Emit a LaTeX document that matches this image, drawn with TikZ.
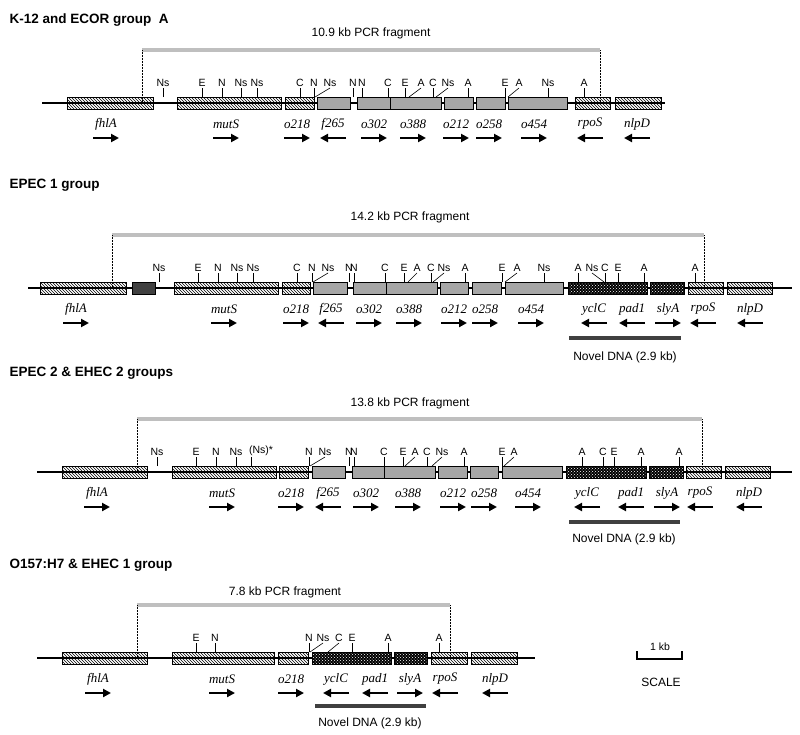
\documentclass[tikz,border=0pt]{standalone}
\usepackage{fontspec}
\setmainfont{Liberation Sans}
\newfontfamily\gfont{Liberation Serif}
\usetikzlibrary{patterns,arrows.meta}
\tikzset{
 hatchbox/.style={draw,line width=0.7pt,pattern=north west lines},
 graybox/.style={draw,line width=0.7pt,fill=black!35},
 darkbox/.style={draw,line width=0.7pt,fill=black!75},
 site/.style={font=\fontsize{10.5}{11}\selectfont,inner sep=1pt},
 gene/.style={font=\gfont\itshape\fontsize{13}{14}\selectfont},
 ttl/.style={font=\bfseries\fontsize{13.5}{15}\selectfont,anchor=west},
 frag/.style={font=\fontsize{12}{14}\selectfont},
 pcr/.style={line width=3.5pt,black!25},
 guide/.style={densely dotted,line width=0.5pt},
 back/.style={line width=1.8pt},
 rarr/.style={line width=2pt,-{Triangle[length=8pt,width=8pt]}},
}
\newcommand\hb[3]{\draw[hatchbox] (#1,#3-6) rectangle (#2,#3+6);}
\newcommand\gb[3]{\draw[graybox] (#1,#3-6) rectangle (#2,#3+6);}
\newcommand\db[3]{\fill[black] (#1,#3-6) rectangle (#2,#3+6);\fill[pattern=crosshatch dots,pattern color=white] (#1,#3-6) rectangle (#2,#3+6);\draw[line width=0.7pt] (#1,#3-6) rectangle (#2,#3+6);}
\newcommand\ticks[2]{\foreach \x/\l in {#2}{\draw[line width=0.6pt] (\x,#1-6)--(\x,#1-15) node[site,above]{\l};}}
\newcommand\slants[2]{\foreach \x/\e/\l in {#2}{\draw[line width=0.6pt] (\x,#1-6)--(\e,#1-15) node[site,above]{\l};}}
\newcommand\genes[2]{\foreach \x/\l/\d in {#2}{\node[gene] at (\x,#1+21) {\l};
 \ifnum\d=1 \draw[rarr] (\x-13,#1+35)--(\x+13,#1+35);\else\draw[rarr] (\x+13,#1+35)--(\x-13,#1+35);\fi}}
\begin{document}
\begin{tikzpicture}[x=1pt,y=-1pt]
\useasboundingbox (0,0) rectangle (800,734);
% ---------- Panel 1
\node[ttl] (t1) at (6,20) {K-12 and ECOR group\ \ A};
\node[frag] (f1) at (371,33) {10.9 kb PCR fragment};
\coordinate (p1a) at (142,50); \coordinate (p1b) at (600,50);
\draw[pcr] (p1a)--(p1b);
\draw[guide] (p1a)--(142,103); \draw[guide] (p1b)--(600,103);
\draw[back] (42,103)--(665,103);
\hb{67}{153}{103}\hb{177}{281}{103}\hb{285}{314}{103}
\gb{317}{350}{103}\gb{357}{390}{103}\gb{390}{441}{103}\gb{444}{473}{103}\gb{476}{505}{103}\gb{508}{567}{103}
\hb{575}{610}{103}\hb{615}{661}{103}
\ticks{103}{163/Ns,202/E,222/N,241/Ns,257/Ns,300/C,314/N,353/N,362/N,388/C,405/E,433/C,468/A,505/E,548/Ns,584/A}
\slants{103}{315/330/Ns,409/421/A,436/448/Ns,508/519/A}
\genes{103}{106/fhlA/1,226/mutS/1,297/o218/1,333/f265/0,374/o302/1,413/o388/1,456/o212/1,489/o258/1,534/o454/1,590/rpoS/0,637/nlpD/0}
% ---------- Panel 2
\node[ttl] (t2) at (6,185) {EPEC 1 group};
\node[frag] (f2) at (410,217) {14.2 kb PCR fragment};
\coordinate (p2a) at (112,235); \coordinate (p2b) at (704,235);
\draw[pcr] (p2a)--(p2b);
\draw[guide] (p2a)--(112,288); \draw[guide] (p2b)--(704,288);
\draw[back] (28,288)--(792,288);
\hb{40}{126}{288}\draw[darkbox] (132,282) rectangle (155,294);
\hb{174}{278}{288}\hb{282}{310}{288}
\gb{313}{347}{288}\gb{353}{386}{288}\gb{386}{437}{288}\gb{440}{468}{288}\gb{472}{501}{288}\gb{505}{563}{288}
\db{568}{647}{288}\db{650}{684}{288}
\hb{688}{723}{288}\hb{727}{772}{288}
\ticks{288}{159/Ns,198/E,218/N,237/Ns,253/Ns,297/C,312/N,349/N,354/N,385/C,404/E,431/C,465/A,502/E,544/Ns,578/A,605/C,618/E,644/A,695/A}
\slants{288}{313/328/Ns,408/417/A,433/444/Ns,505/517/A,604/592/Ns}
\genes{288}{76/fhlA/1,224/mutS/1,296/o218/1,331/f265/0,369/o302/1,409/o388/1,454/o212/1,485/o258/1,531/o454/1,594/yclC/0,632/pad1/0,668/slyA/1,703/rpoS/0,750/nlpD/0}
\draw[line width=3.5pt,black!75] (569,338)--(681,338);
\node[frag] (n2) at (625,357) {Novel DNA (2.9 kb)};
% ---------- Panel 3
\node[ttl] (t3) at (6,373) {EPEC 2 \& EHEC 2 groups};
\node[frag] (f3) at (410,403) {13.8 kb PCR fragment};
\coordinate (p3a) at (137,419); \coordinate (p3b) at (702,419);
\draw[pcr] (p3a)--(p3b);
\draw[guide] (p3a)--(137,472); \draw[guide] (p3b)--(702,472);
\draw[back] (37,472)--(792,472);
\hb{62}{147}{472}\hb{172}{276}{472}\hb{279}{308}{472}
\gb{312}{345}{472}\gb{352}{384}{472}\gb{384}{435}{472}\gb{438}{467}{472}\gb{470}{498}{472}\gb{502}{562}{472}
\db{566}{646}{472}\db{649}{683}{472}
\hb{686}{721}{472}\hb{725}{770}{472}
\ticks{472}{157/Ns,196/E,216/N,236/Ns,309/N,349/N,354/N,384/C,403/E,427/C,464/A,502/E,582/A,603/C,614/E,641/A,679/A}
\draw[line width=0.6pt] (251,466)--(251,457) node[site,above,xshift=10pt]{(Ns)*};
\slants{472}{310/325/Ns,405/415/A,432/442/Ns,504/514/A}
\genes{472}{97/fhlA/1,222/mutS/1,291/o218/1,328/f265/0,366/o302/1,408/o388/1,453/o212/1,484/o258/1,528/o454/1,587/yclC/0,631/pad1/0,667/slyA/1,700/rpoS/0,749/nlpD/0}
\draw[line width=3.5pt,black!75] (569,522)--(680,522);
\node[frag] (n3) at (624,539) {Novel DNA (2.9 kb)};
% ---------- Panel 4
\node[ttl] (t4) at (6,565) {O157:H7 \& EHEC 1 group};
\node[frag] (f4) at (285,592) {7.8 kb PCR fragment};
\coordinate (p4a) at (137,605); \coordinate (p4b) at (450,605);
\draw[pcr] (p4a)--(p4b);
\draw[guide] (p4a)--(137,658); \draw[guide] (p4b)--(450,658);
\draw[back] (37,658)--(535,658);
\hb{62}{147}{658}\hb{172}{274}{658}\hb{278}{308}{658}
\db{312}{391}{658}\db{394}{427}{658}
\hb{431}{467}{658}\hb{471}{517}{658}
\ticks{658}{196/E,215/N,309/N,352/E,388/A,439/A}
\slants{658}{310/323/Ns,328/339/C}
\genes{658}{98/fhlA/1,222/mutS/1,291/o218/1,336/yclC/0,375/pad1/0,410/slyA/1,445/rpoS/0,495/nlpD/0}
\draw[line width=3.5pt,black!75] (315,706)--(426,706);
\node[frag] (n4) at (370,723) {Novel DNA (2.9 kb)};
% scale
\draw[line width=1.4pt] (637,651)--(637,659)--(682,659)--(682,651);
\node[site] (kb) at (660,647) {1 kb};
\node[frag] (sc) at (661,682) {SCALE};
\end{tikzpicture}
\end{document}
